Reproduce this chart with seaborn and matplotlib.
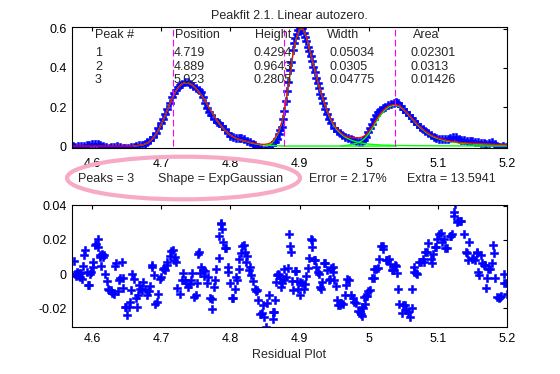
import numpy as np
import pandas as pd
import seaborn as sns
import matplotlib.pyplot as plt
from matplotlib.patches import Ellipse

# observed signal (blue points, top panel)
obs_x = [4.572, 4.576, 4.580, 4.584, 4.588, 4.592, 4.596, 4.600, 4.604, 4.608, 4.612, 4.616, 4.620, 4.624,
         4.628, 4.632, 4.636, 4.640, 4.644, 4.648, 4.652, 4.656, 4.660, 4.664, 4.668, 4.672, 4.676, 4.680,
         4.684, 4.688, 4.692, 4.696, 4.700, 4.703, 4.706, 4.709, 4.712, 4.715, 4.718, 4.721, 4.724, 4.727,
         4.730, 4.734, 4.738, 4.742, 4.746, 4.750, 4.754, 4.757, 4.760, 4.763, 4.766, 4.769, 4.772, 4.776,
         4.780, 4.784, 4.788, 4.792, 4.796, 4.800, 4.804, 4.808, 4.812, 4.816, 4.820, 4.824, 4.828, 4.832,
         4.836, 4.840, 4.844, 4.848, 4.852, 4.856, 4.860, 4.864, 4.867, 4.870, 4.872, 4.874, 4.876, 4.878,
         4.880, 4.882, 4.884, 4.886, 4.888, 4.890, 4.892, 4.894, 4.896, 4.898, 4.900, 4.902, 4.904, 4.906,
         4.908, 4.910, 4.912, 4.914, 4.916, 4.918, 4.920, 4.922, 4.924, 4.926, 4.928, 4.930, 4.932, 4.934,
         4.937, 4.940, 4.943, 4.946, 4.950, 4.954, 4.958, 4.962, 4.966, 4.970, 4.974, 4.978, 4.982, 4.986,
         4.990, 4.993, 4.996, 4.999, 5.002, 5.005, 5.008, 5.011, 5.014, 5.017, 5.020, 5.024, 5.028, 5.032,
         5.036, 5.039, 5.042, 5.046, 5.050, 5.054, 5.058, 5.062, 5.066, 5.070, 5.074, 5.078, 5.082, 5.086,
         5.090, 5.094, 5.098, 5.102, 5.106, 5.110, 5.114, 5.118, 5.122, 5.126, 5.130, 5.134, 5.138, 5.142,
         5.146, 5.150, 5.154, 5.158, 5.162, 5.166, 5.170, 5.174, 5.178, 5.182, 5.186, 5.190, 5.194, 5.198]
obs_y = [0.000, -0.003, -0.002, 0.001, -0.002, 0.003, 0.006, 0.010, 0.012, 0.010, 0.004, 0.000, -0.004, -0.008,
         -0.007, -0.003, -0.002, -0.006, -0.009, -0.012, -0.011, -0.006, -0.003, 0.001, 0.003, 0.006, 0.012, 0.020,
         0.032, 0.046, 0.065, 0.090, 0.118, 0.140, 0.165, 0.192, 0.222, 0.250, 0.272, 0.288, 0.300, 0.312,
         0.320, 0.328, 0.327, 0.320, 0.308, 0.298, 0.288, 0.275, 0.250, 0.222, 0.195, 0.175, 0.158, 0.140,
         0.124, 0.118, 0.105, 0.085, 0.065, 0.052, 0.044, 0.040, 0.040, 0.043, 0.036, 0.028, 0.020, 0.012,
         0.004, -0.006, -0.014, -0.019, -0.018, -0.010, 0.004, 0.020, 0.035, 0.060, 0.080, 0.100, 0.140, 0.180,
         0.230, 0.280, 0.330, 0.390, 0.430, 0.490, 0.530, 0.555, 0.575, 0.595, 0.603, 0.607, 0.603, 0.580,
         0.560, 0.540, 0.510, 0.485, 0.462, 0.435, 0.405, 0.378, 0.350, 0.322, 0.295, 0.268, 0.245, 0.220,
         0.190, 0.163, 0.138, 0.118, 0.095, 0.078, 0.065, 0.055, 0.047, 0.041, 0.036, 0.030, 0.024, 0.020,
         0.020, 0.030, 0.048, 0.070, 0.092, 0.115, 0.138, 0.158, 0.174, 0.186, 0.194, 0.201, 0.208, 0.215,
         0.222, 0.228, 0.220, 0.205, 0.188, 0.172, 0.158, 0.142, 0.127, 0.112, 0.100, 0.088, 0.076, 0.066,
         0.056, 0.048, 0.042, 0.038, 0.036, 0.035, 0.037, 0.042, 0.047, 0.046, 0.036, 0.031, 0.030, 0.027,
         0.025, 0.026, 0.023, 0.020, 0.017, 0.015, 0.012, 0.016, 0.019, 0.012, 0.002, -0.004, -0.002, -0.005]

# total fit (red)
fit_x = [4.572, 4.600, 4.640, 4.660, 4.665, 4.670, 4.675, 4.680, 4.685, 4.690, 4.695, 4.700, 4.705, 4.710,
         4.715, 4.720, 4.725, 4.730, 4.735, 4.740, 4.745, 4.750, 4.755, 4.760, 4.765, 4.770, 4.775, 4.780,
         4.785, 4.790, 4.795, 4.800, 4.805, 4.810, 4.815, 4.820, 4.825, 4.830, 4.835, 4.840, 4.845, 4.850,
         4.855, 4.860, 4.865, 4.870, 4.875, 4.880, 4.885, 4.890, 4.895, 4.900, 4.905, 4.910, 4.915, 4.920,
         4.925, 4.930, 4.935, 4.940, 4.945, 4.950, 4.955, 4.960, 4.965, 4.970, 4.975, 4.980, 4.985, 4.990,
         4.995, 5.000, 5.005, 5.010, 5.015, 5.020, 5.025, 5.030, 5.035, 5.040, 5.045, 5.050, 5.055, 5.060,
         5.065, 5.070, 5.075, 5.080, 5.085, 5.090, 5.095, 5.100, 5.110, 5.120, 5.130, 5.140, 5.150, 5.160,
         5.170, 5.180, 5.190, 5.200]
fit_y = [0.000, 0.000, 0.000, 0.000, 0.002, 0.004, 0.008, 0.015, 0.028, 0.048, 0.075, 0.110, 0.150, 0.195,
         0.238, 0.275, 0.302, 0.318, 0.325, 0.322, 0.312, 0.296, 0.275, 0.250, 0.222, 0.192, 0.162, 0.135,
         0.110, 0.088, 0.070, 0.056, 0.045, 0.037, 0.031, 0.026, 0.022, 0.018, 0.014, 0.011, 0.009, 0.009,
         0.012, 0.020, 0.045, 0.075, 0.130, 0.220, 0.340, 0.460, 0.550, 0.600, 0.600, 0.560, 0.490, 0.420,
         0.350, 0.285, 0.230, 0.180, 0.140, 0.110, 0.085, 0.067, 0.053, 0.046, 0.043, 0.042, 0.042, 0.045,
         0.055, 0.075, 0.100, 0.130, 0.158, 0.180, 0.197, 0.208, 0.213, 0.212, 0.205, 0.190, 0.172, 0.152,
         0.132, 0.113, 0.096, 0.081, 0.068, 0.057, 0.048, 0.041, 0.031, 0.024, 0.019, 0.016, 0.014, 0.012,
         0.010, 0.009, 0.008, 0.007]

# individual components (green)
comp1_x = [4.660, 4.665, 4.670, 4.675, 4.680, 4.685, 4.690, 4.695, 4.700, 4.705, 4.710, 4.715, 4.720, 4.725,
           4.730, 4.735, 4.740, 4.745, 4.750, 4.755, 4.760, 4.765, 4.770, 4.775, 4.780, 4.785, 4.790, 4.795,
           4.800, 4.805, 4.810, 4.815, 4.820, 4.825, 4.830, 4.835, 4.840, 4.845, 4.850, 4.860, 4.870, 4.880,
           5.040]
comp1_y = [0.000, 0.002, 0.004, 0.008, 0.015, 0.028, 0.048, 0.075, 0.110, 0.150, 0.195, 0.238, 0.275, 0.302,
           0.318, 0.325, 0.322, 0.312, 0.296, 0.275, 0.250, 0.222, 0.192, 0.162, 0.135, 0.110, 0.088, 0.070,
           0.056, 0.045, 0.037, 0.031, 0.026, 0.021, 0.016, 0.012, 0.009, 0.007, 0.005, 0.003, 0.001, 0.000,
           0.000]
comp2_x = [4.850, 4.855, 4.860, 4.865, 4.870, 4.875, 4.880, 4.885, 4.890, 4.895, 4.900, 4.905, 4.910, 4.915,
           4.920, 4.925, 4.930, 4.935, 4.940, 4.945, 4.950, 4.955, 4.960, 4.965, 4.970, 4.975, 4.980, 4.985,
           4.990, 4.995, 5.000, 5.010, 5.020, 5.040, 5.060, 5.100, 5.200]
comp2_y = [0.000, 0.005, 0.014, 0.040, 0.072, 0.128, 0.218, 0.338, 0.458, 0.548, 0.598, 0.598, 0.558, 0.488,
           0.418, 0.348, 0.283, 0.228, 0.178, 0.136, 0.104, 0.080, 0.062, 0.048, 0.038, 0.030, 0.024, 0.019,
           0.015, 0.012, 0.010, 0.007, 0.005, 0.003, 0.002, 0.001, 0.000]
comp3_x = [4.960, 4.970, 4.980, 4.985, 4.990, 4.995, 5.000, 5.005, 5.010, 5.015, 5.020, 5.025, 5.030, 5.035,
           5.040, 5.045, 5.050, 5.055, 5.060, 5.065, 5.070, 5.075, 5.080, 5.085, 5.090, 5.095, 5.100, 5.110,
           5.120, 5.130, 5.140, 5.150, 5.160, 5.170, 5.180, 5.190, 5.200]
comp3_y = [0.000, 0.004, 0.012, 0.018, 0.027, 0.042, 0.063, 0.090, 0.120, 0.148, 0.172, 0.190, 0.202, 0.208,
           0.208, 0.202, 0.188, 0.170, 0.150, 0.130, 0.110, 0.093, 0.078, 0.065, 0.054, 0.045, 0.038, 0.028,
           0.021, 0.016, 0.013, 0.011, 0.009, 0.008, 0.007, 0.006, 0.006]

# peak markers (dashed magenta lines)
peak_lines = [4.717, 4.877, 5.038]

# results table
table_header = ["Peak #", "Position", "Height", "Width", "Area"]
peak_num = ["1", "2", "3"]
peak_pos = ["4.719", "4.889", "5.023"]
peak_height = ["0.4294", "0.9643", "0.2805"]
peak_width = ["0.05034", "0.0305", "0.04775"]
peak_area = ["0.02301", "0.0313", "0.01426"]
info = ["Peaks = 3", "Shape = ExpGaussian", "Error = 2.17%", "Extra = 13.5941"]

# residuals (bottom panel)
res_x = [4.574, 4.575, 4.577, 4.578, 4.580, 4.581, 4.583, 4.584, 4.586, 4.587, 4.589, 4.590, 4.592, 4.594,
         4.596, 4.597, 4.599, 4.601, 4.602, 4.604, 4.606, 4.608, 4.609, 4.611, 4.612, 4.613, 4.614, 4.616,
         4.617, 4.619, 4.621, 4.623, 4.625, 4.627, 4.629, 4.631, 4.633, 4.635, 4.637, 4.639, 4.641, 4.643,
         4.644, 4.645, 4.648, 4.649, 4.651, 4.653, 4.655, 4.657, 4.658, 4.661, 4.663, 4.665, 4.667, 4.668,
         4.669, 4.672, 4.674, 4.677, 4.680, 4.682, 4.684, 4.686, 4.687, 4.689, 4.691, 4.694, 4.696, 4.698,
         4.699, 4.702, 4.704, 4.706, 4.708, 4.709, 4.712, 4.714, 4.717, 4.719, 4.720, 4.721, 4.723, 4.727,
         4.730, 4.732, 4.734, 4.736, 4.738, 4.741, 4.743, 4.744, 4.747, 4.750, 4.751, 4.753, 4.754, 4.756,
         4.757, 4.760, 4.762, 4.763, 4.766, 4.768, 4.771, 4.773, 4.774, 4.776, 4.778, 4.779, 4.783, 4.784,
         4.786, 4.787, 4.788, 4.790, 4.792, 4.794, 4.796, 4.797, 4.800, 4.802, 4.804, 4.806, 4.808, 4.810,
         4.812, 4.813, 4.815, 4.817, 4.819, 4.821, 4.823, 4.824, 4.827, 4.829, 4.830, 4.832, 4.835, 4.837,
         4.838, 4.840, 4.843, 4.845, 4.847, 4.849, 4.851, 4.853, 4.856, 4.861, 4.862, 4.863, 4.864, 4.866,
         4.868, 4.869, 4.870, 4.872, 4.873, 4.874, 4.877, 4.878, 4.880, 4.883, 4.885, 4.886, 4.887, 4.889,
         4.890, 4.893, 4.895, 4.897, 4.898, 4.900, 4.901, 4.904, 4.907, 4.908, 4.910, 4.912, 4.913, 4.916,
         4.918, 4.918, 4.921, 4.923, 4.924, 4.926, 4.928, 4.929, 4.931, 4.932, 4.935, 4.937, 4.939, 4.942,
         4.944, 4.946, 4.948, 4.949, 4.950, 4.952, 4.954, 4.956, 4.958, 4.960, 4.963, 4.965, 4.967, 4.969,
         4.972, 4.975, 4.977, 4.979, 4.981, 4.985, 4.987, 4.989, 4.990, 4.991, 4.992, 4.993, 4.994, 4.996,
         4.998, 4.999, 5.002, 5.005, 5.007, 5.008, 5.010, 5.014, 5.015, 5.018, 5.020, 5.021, 5.025, 5.027,
         5.030, 5.031, 5.033, 5.035, 5.038, 5.040, 5.041, 5.043, 5.044, 5.048, 5.050, 5.052, 5.054, 5.057,
         5.060, 5.062, 5.063, 5.065, 5.066, 5.068, 5.070, 5.073, 5.075, 5.078, 5.080, 5.082, 5.084, 5.086,
         5.090, 5.091, 5.093, 5.096, 5.098, 5.099, 5.102, 5.104, 5.106, 5.109, 5.111, 5.113, 5.117, 5.119,
         5.120, 5.123, 5.124, 5.125, 5.127, 5.129, 5.132, 5.134, 5.138, 5.141, 5.142, 5.144, 5.145, 5.149,
         5.151, 5.154, 5.156, 5.157, 5.158, 5.160, 5.162, 5.164, 5.166, 5.168, 5.170, 5.171, 5.173, 5.175,
         5.178, 5.180, 5.181, 5.183, 5.185, 5.188, 5.190, 5.192, 5.195, 5.196, 5.198, 5.200]
res_y = [0.0077, 0.0000, -0.0010, 0.0010, -0.0008, 0.0005, -0.0015, 0.0008, -0.0030, 0.0047, 0.0110, 0.0140,
         0.0010, -0.0065, -0.0065, 0.0000, 0.0010, 0.0043, 0.0070, 0.0172, 0.0175, 0.0206, 0.0160, 0.0110,
         0.0100, 0.0050, 0.0115, 0.0100, 0.0110, 0.0000, -0.0040, -0.0090, -0.0095, -0.0095, -0.0110, -0.0115,
         0.0050, 0.0065, -0.0100, -0.0036, -0.0020, 0.0073, -0.0020, -0.0080, -0.0190, -0.0190, -0.0237, -0.0190,
         -0.0164, -0.0095, 0.0000, -0.0028, -0.0139, -0.0190, -0.0125, -0.0065, -0.0085, -0.0095, -0.0046, -0.0090,
         -0.0120, -0.0100, -0.0071, 0.0040, 0.0055, -0.0006, -0.0178, -0.0164, -0.0115, -0.0026, -0.0016, 0.0028,
         0.0035, 0.0024, 0.0073, 0.0053, 0.0107, 0.0137, 0.0142, 0.0083, 0.0100, 0.0073, -0.0079, -0.0115,
         -0.0036, 0.0008, -0.0036, -0.0050, -0.0075, -0.0060, -0.0036, 0.0004, -0.0135, -0.0120, -0.0055, 0.0117,
         0.0128, 0.0008, 0.0040, 0.0024, -0.0012, 0.0020, -0.0051, -0.0016, -0.0139, -0.0145, -0.0204, -0.0075,
         -0.0036, 0.0028, 0.0093, 0.0226, 0.0300, 0.0295, 0.0265, 0.0186, 0.0150, 0.0150, 0.0043, 0.0010,
         -0.0051, -0.0139, -0.0139, -0.0085, -0.0016, -0.0036, 0.0028, 0.0087, 0.0123, 0.0164, 0.0170, 0.0132,
         0.0073, 0.0107, 0.0024, 0.0040, -0.0006, -0.0040, -0.0090, -0.0100, -0.0095, -0.0150, -0.0233, -0.0230,
         -0.0184, -0.0249, -0.0309, -0.0170, -0.0125, -0.0263, -0.0224, -0.0224, -0.0154, -0.0046, -0.0003, 0.0000,
         -0.0005, -0.0022, -0.0075, -0.0051, 0.0028, -0.0026, -0.0016, 0.0034, 0.0236, 0.0162, 0.0132, -0.0040,
         -0.0095, 0.0020, 0.0016, -0.0042, -0.0090, -0.0120, -0.0046, -0.0055, -0.0085, -0.0060, -0.0012, 0.0034,
         0.0093, 0.0204, 0.0200, 0.0156, 0.0081, 0.0080, 0.0040, 0.0014, 0.0000, -0.0077, -0.0090, -0.0046,
         0.0065, 0.0063, 0.0024, -0.0032, -0.0026, 0.0036, 0.0040, 0.0014, -0.0036, -0.0071, -0.0150, -0.0184,
         -0.0180, -0.0172, -0.0175, -0.0120, -0.0065, -0.0030, -0.0032, -0.0125, -0.0140, -0.0166, -0.0170, -0.0214,
         -0.0220, -0.0233, -0.0190, -0.0243, -0.0198, -0.0135, -0.0174, -0.0130, -0.0128, -0.0099, -0.0091, -0.0024,
         -0.0020, 0.0030, 0.0030, 0.0034, 0.0087, 0.0164, 0.0164, 0.0147, 0.0083, 0.0080, 0.0087, 0.0059,
         0.0024, 0.0022, 0.0055, 0.0050, 0.0008, -0.0085, -0.0174, -0.0230, -0.0184, -0.0180, -0.0210, -0.0224,
         -0.0249, -0.0198, -0.0085, 0.0014, 0.0040, 0.0008, 0.0000, 0.0068, 0.0070, 0.0087, 0.0073, 0.0130,
         0.0132, 0.0182, 0.0087, 0.0063, 0.0119, 0.0156, 0.0160, 0.0206, 0.0236, 0.0240, 0.0186, 0.0206,
         0.0154, 0.0150, 0.0221, 0.0225, 0.0237, 0.0340, 0.0365, 0.0410, 0.0306, 0.0310, 0.0310, 0.0310,
         0.0237, 0.0132, 0.0123, 0.0083, 0.0186, 0.0091, 0.0095, 0.0083, 0.0125, 0.0127, 0.0014, -0.0006,
         0.0113, 0.0063, 0.0056, 0.0055, -0.0079, -0.0020, 0.0030, 0.0030, 0.0063, 0.0172, 0.0126, -0.0020,
         -0.0137, -0.0140, -0.0135, -0.0130, -0.0052, 0.0000, -0.0052, -0.0119]

x_ticks = [4.6, 4.7, 4.8, 4.9, 5.0, 5.1, 5.2]
x_ticklabels = ["4.6", "4.7", "4.8", "4.9", "5", "5.1", "5.2"]
top_yticks = [0, 0.2, 0.4, 0.6]
top_yticklabels = ["0", "0.2", "0.4", "0.6"]
bot_yticks = [-0.02, 0, 0.02, 0.04]
bot_yticklabels = ["-0.02", "0", "0.02", "0.04"]

sns.set_style("white")
plt.rcParams["font.family"] = ["Liberation Sans", "DejaVu Sans"]
plt.rcParams["font.size"] = 9
plt.rcParams["axes.unicode_minus"] = False

fig = plt.figure(figsize=(5.6, 3.74), dpi=100)
ax1 = fig.add_axes([0.1286, 0.6043, 0.7768, 0.3235])
ax2 = fig.add_axes([0.1286, 0.1257, 0.7768, 0.3262])

# top panel
sns.scatterplot(x=obs_x, y=obs_y, ax=ax1, marker="P", s=30, color="blue",
                edgecolor="blue", linewidth=0.4)
for cx, cy in [(comp1_x, comp1_y), (comp2_x, comp2_y), (comp3_x, comp3_y)]:
    sns.lineplot(x=cx, y=cy, ax=ax1, color="#00ff00", linewidth=1.0, sort=False, estimator=None)
sns.lineplot(x=fit_x, y=fit_y, ax=ax1, color="red", linewidth=0.9, sort=False, estimator=None)
ax1.vlines(peak_lines, 0.0, 0.61, colors="magenta", linewidth=0.8, linestyles=(0, (6, 3)))

ax1.set_xlim(4.571, 5.2)
ax1.set_ylim(-0.01, 0.61)
ax1.set_title("Peakfit 2.1. Linear autozero.", fontsize=9, pad=6)

table_x = [4.604, 4.718, 4.834, 4.943, 5.060]
header_x = [4.604, 4.720, 4.836, 4.940, 5.064]
row_y = [0.478, 0.405, 0.338]
for hx, h in zip(header_x, table_header):
    ax1.text(hx, 0.571, h, ha="left", va="center", fontsize=9)
for col, tx in zip([peak_num, peak_pos, peak_height, peak_width, peak_area], table_x):
    for ry, val in zip(row_y, col):
        ax1.text(tx, ry, val, ha="left", va="center", fontsize=9)

# bottom panel
sns.scatterplot(x=res_x, y=res_y, ax=ax2, marker="P", s=30, color="blue",
                edgecolor="blue", linewidth=0.4)
ax2.set_xlim(4.571, 5.2)
ax2.set_ylim(-0.031, 0.0405)
ax2.set_xlabel("Residual Plot", fontsize=9, labelpad=3)

for ax, yt, ytl, xpad in [(ax1, top_yticks, top_yticklabels, 7),
                          (ax2, bot_yticks, bot_yticklabels, 4)]:
    ax.set_xticks(x_ticks)
    ax.set_xticklabels(x_ticklabels)
    ax.set_yticks(yt)
    ax.set_yticklabels(ytl)
    ax.tick_params(direction="in", length=3, width=0.8, top=True, right=True,
                   labelsize=9, colors="black")
    ax.tick_params(axis="x", pad=xpad)
    ax.tick_params(axis="y", pad=4)
    for sp in ax.spines.values():
        sp.set_color("black")
        sp.set_linewidth(0.8)
    ax.set_ylabel("")

# fit summary line + pink highlight
info_x = [0.1393, 0.2821, 0.5518, 0.7268]
for ix, s in zip(info_x, info):
    fig.text(ix, 0.5214, s, ha="left", va="center", fontsize=9)
fig.patches.append(Ellipse((0.3277, 0.524), 0.416, 0.114, transform=fig.transFigure,
                           fill=False, edgecolor="#f7aac6", linewidth=3, zorder=5))

fig.savefig("out.png", dpi=100)
